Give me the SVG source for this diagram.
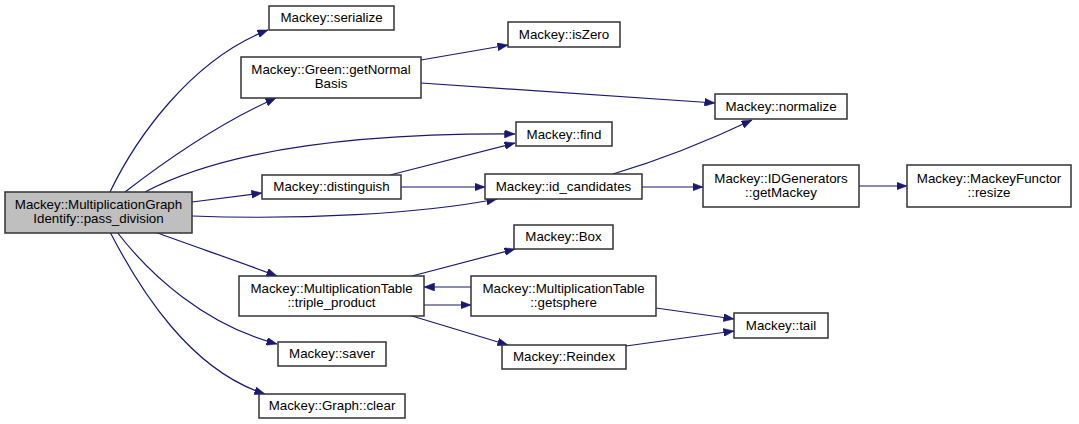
<svg xmlns="http://www.w3.org/2000/svg" width="1079" height="424" viewBox="0 0 1079 424">
<defs>
<marker id="arr" markerUnits="userSpaceOnUse" markerWidth="11" markerHeight="8" refX="10.5" refY="4" orient="auto">
<path d="M0,0 L10.5,4 L0,8 z" fill="#191970" stroke="#191970" stroke-width="0.5"/>
</marker>
<style>
.n rect{fill:#ffffff;stroke:#333333;stroke-width:1.5}
.n.main rect{fill:#bfbfbf}
.n text{font-family:"Liberation Sans",Arial,sans-serif;font-size:13.33px;fill:#000;text-anchor:middle}
#edges path{fill:none;stroke:#191970;stroke-width:1.2;marker-end:url(#arr)}
</style>
</defs>
<rect width="1079" height="424" fill="#ffffff"/>
<g id="edges">
<path d="M110,192 C135,140 190,60 268,30"/>
<path d="M125,192 C160,165 215,125 276,98"/>
<path d="M145,192 C215,155 330,133 515,134"/>
<path d="M192,202 L262,193"/>
<path d="M192,216 C300,220 420,214 497,199"/>
<path d="M155,232 C190,245 240,262 277,276"/>
<path d="M117,232 C150,275 205,325 277,344"/>
<path d="M110,232 C140,290 190,370 265,394"/>
<path d="M421,60 L508,45"/>
<path d="M421,83 L715,103"/>
<path d="M390,175 L515,143"/>
<path d="M401,187 L485,187"/>
<path d="M613,174 C660,160 710,140 752,120"/>
<path d="M642,187 L703,187"/>
<path d="M859,186 L907,186"/>
<path d="M412,276 L515,249"/>
<path d="M424,305 L471,305"/>
<path d="M471,287 L424,287"/>
<path d="M412,316 L508,345"/>
<path d="M656,308 L734,319"/>
<path d="M626,346 L734,331"/>
</g>
<g id="main" class="n main"><rect x="5" y="192" width="187" height="41"/><text x="98.5" y="209">Mackey::MultiplicationGraph</text><text x="98.5" y="223">Identify::pass_division</text></g>
<g id="serialize" class="n"><rect x="269" y="6" width="125" height="24"/><text x="331.5" y="22">Mackey::serialize</text></g>
<g id="getNormalBasis" class="n"><rect x="241" y="57" width="180" height="41"/><text x="331" y="74">Mackey::Green::getNormal</text><text x="331" y="88">Basis</text></g>
<g id="isZero" class="n"><rect x="508" y="22" width="112" height="25"/><text x="564" y="39">Mackey::isZero</text></g>
<g id="normalize" class="n"><rect x="715" y="94" width="132" height="25"/><text x="781" y="111">Mackey::normalize</text></g>
<g id="find" class="n"><rect x="516" y="122" width="96" height="24"/><text x="564" y="138.5">Mackey::find</text></g>
<g id="distinguish" class="n"><rect x="262" y="175" width="139" height="24"/><text x="331.5" y="191">Mackey::distinguish</text></g>
<g id="id_candidates" class="n"><rect x="485" y="174" width="157" height="25"/><text x="563.5" y="191">Mackey::id_candidates</text></g>
<g id="getMackey" class="n"><rect x="703" y="165" width="156" height="42"/><text x="781" y="183">Mackey::IDGenerators</text><text x="781" y="197">::getMackey</text></g>
<g id="resize" class="n"><rect x="907" y="165" width="164" height="42"/><text x="989" y="183">Mackey::MackeyFunctor</text><text x="989" y="197">::resize</text></g>
<g id="Box" class="n"><rect x="514" y="225" width="99" height="24"/><text x="563.5" y="241">Mackey::Box</text></g>
<g id="triple_product" class="n"><rect x="239" y="276" width="185" height="40"/><text x="331.5" y="293">Mackey::MultiplicationTable</text><text x="331.5" y="307">::triple_product</text></g>
<g id="getsphere" class="n"><rect x="471" y="276" width="185" height="40"/><text x="563.5" y="293">Mackey::MultiplicationTable</text><text x="563.5" y="307">::getsphere</text></g>
<g id="Reindex" class="n"><rect x="502" y="345" width="124" height="24"/><text x="564" y="361">Mackey::Reindex</text></g>
<g id="tail" class="n"><rect x="734" y="313" width="94" height="25"/><text x="781" y="330">Mackey::tail</text></g>
<g id="saver" class="n"><rect x="278" y="342" width="108" height="24"/><text x="332" y="358">Mackey::saver</text></g>
<g id="clear" class="n"><rect x="259" y="394" width="146" height="24"/><text x="332" y="410">Mackey::Graph::clear</text></g>
</svg>
